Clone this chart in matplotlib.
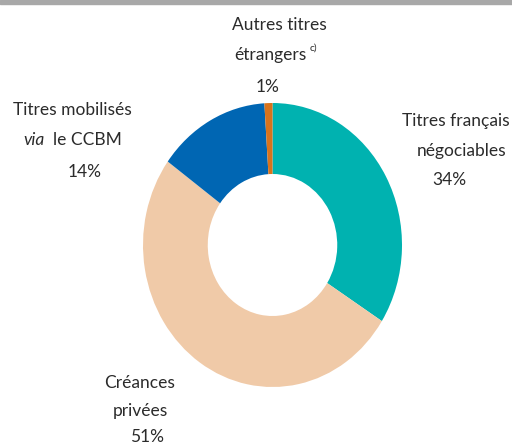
import matplotlib.pyplot as plt
from matplotlib.patches import Rectangle

# Répartition des garanties mobilisées
categories = ["Titres français\nnégociables", "Créances\nprivées",
              "Titres mobilisés\nvia le CCBM", "Autres titres\nétrangers"]
shares = [34, 51, 14, 1]
colors = ["#00B2B0", "#F0CAA8", "#0066B3", "#D8731C"]

W, H = 512, 445
fig = plt.figure(figsize=(W / 100, H / 100), dpi=100)
plt.rcParams["font.family"] = ["Lato", "DejaVu Sans"]
TXT = "#2b2b2b"
FS = 12.5

# barre grise en haut
fig.patches.append(Rectangle((0, 1 - 4 / H), 1, 4 / H, transform=fig.transFigure,
                             color="#A8A8A8", zorder=0))

# anneau légèrement étiré verticalement
left, right, top, bottom = 143, 402, 103, 387
ax = fig.add_axes([left / W, 1 - bottom / H, (right - left) / W, (bottom - top) / H])
ax.pie(shares, colors=colors, startangle=90, counterclock=False,
       radius=1.0, wedgeprops=dict(width=0.5, linewidth=0))
ax.set_aspect("auto")
ax.set_xlim(-1, 1)
ax.set_ylim(-1, 1)
ax.axis("off")


def label(x, y, s, size=FS, **kw):
    fig.text(x / W, 1 - y / H, s, ha="center", va="center", fontsize=size,
             color=TXT, **kw)


# Autres titres étrangers
label(279, 25, "Autres titres")
label(270, 55, "étrangers")
label(313, 48, "c)", size=7.5)
label(268, 87, f"{shares[3]}%")

# Titres français négociables
label(456, 121, "Titres français")
label(462, 151, "négociables")
label(449, 180, f"{shares[0]}%")

# Titres mobilisés via le CCBM
label(72, 110, "Titres mobilisés")
label(34, 140, "via", style="italic")
label(87, 140, "le CCBM")
label(85, 172, f"{shares[2]}%")

# Créances privées
label(140, 383, "Créances")
label(140, 411, "privées")
label(147, 437, f"{shares[1]}%")

fig.savefig("out.png", dpi=100)
